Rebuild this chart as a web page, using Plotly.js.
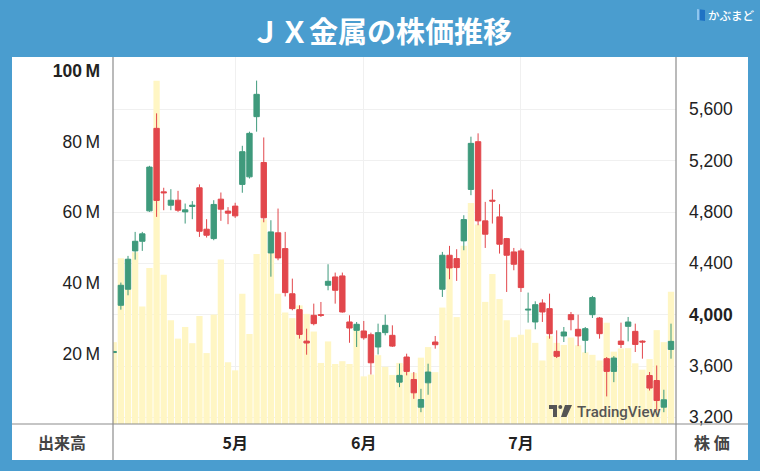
<!DOCTYPE html>
<html>
<head>
<meta charset="utf-8">
<script src="https://cdn.plot.ly/plotly-3.0.1.min.js"></script>
<style>html,body{margin:0;padding:0;background:#4a9dcf;}#chart{width:760px;height:471px;}</style>
</head>
<body>
<div id="chart"></div>
<script>
// Daily OHLC (JPY) and volume (millions of shares)
const opens  = [3705,4073,4198,4497,4572,4809,5452,4957,4853,4892,4801,4843,4989,4666,4593,4900,4807,4846,5015,5074,
                5543,5186,4481,4638,4515,4163,4039,3794,3995,4000,4229,4294,4302,3943,3878,3873,3844,3748,3860,3839,
                3474,3670,3495,3279,3469,3787,4198,4463,4437,4575,4976,5348,4731,4892,4762,4593,4489,4497,4036,3943,
                4091,4047,3714,3834,4000,3886,3800,4000,3974,3657,3558,3794,3909,3870,3794,3526,3487,3279,3729];
const highs  = [3718,4250,4458,4645,4645,5160,5569,4989,4978,4965,4866,4885,5015,4744,4892,4952,4838,4872,5316,5426,
                5824,5381,4736,4827,4645,4281,4073,3891,4086,4099,4393,4328,4328,3995,3943,3951,3860,3930,4000,3917,
                3618,3696,3553,3422,3618,3834,4489,4536,4510,4775,5387,5413,4879,4976,4861,4598,4520,4515,4172,4104,
                4120,4164,3878,3904,4021,4000,3904,4146,3982,3670,3677,3938,3982,3930,3800,3553,3604,3415,3930];
const lows   = [3700,4039,4151,4429,4497,4801,4762,4814,4814,4801,4710,4744,4606,4601,4580,4731,4705,4754,4950,5061,
                5426,4720,4296,4424,4142,4034,3813,3688,3917,3982,4190,4086,4016,3781,3748,3805,3534,3690,3839,3748,
                3435,3527,3344,3240,3376,3735,4138,4276,4263,4502,4931,4697,4520,4710,4476,4177,4346,4177,3938,3886,
                3943,3813,3662,3787,3878,3755,3701,3974,3813,3363,3474,3740,3792,3709,3657,3409,3253,3240,3657];
const closes = [3712,4229,4432,4572,4630,5150,4890,4950,4892,4814,4817,4853,4650,4619,4859,4822,4791,4770,5270,5413,
                5717,4755,4645,4442,4172,4047,3846,3779,3930,3995,4260,4190,4021,3896,3925,3820,3625,3860,3917,3755,
                3527,3558,3391,3339,3553,3766,4463,4364,4367,4741,5335,4731,4627,4885,4549,4463,4393,4211,4042,4078,
                4021,3852,3675,3865,3961,3834,3891,4133,3852,3558,3662,3768,3943,3768,3787,3428,3331,3337,3792];
const volumes = [23.2,47.0,44.0,48.7,33.3,44.2,97.3,42.3,29.4,24.2,27.5,22.9,30.6,20.1,31.0,46.6,17.5,15.2,36.9,25.5,
                 48.2,58.0,49.0,36.9,31.6,30.0,33.6,31.2,26.2,17.3,23.4,17.0,17.8,17.0,28.2,13.5,14.0,19.5,16.2,13.9,
                 17.3,17.0,14.5,18.8,21.8,14.7,33.0,44.5,30.3,50.5,62.6,56.5,34.6,42.5,35.4,29.4,24.6,25.3,26.8,23.0,
                 18.0,25.0,23.0,22.4,24.5,22.3,20.3,19.6,18.0,28.7,20.5,21.4,21.5,17.2,15.4,18.4,26.6,23.2,37.5];
const monthTickIndex = [17,35,57];
const monthTickText  = ['5月','6月','7月'];
const volTickVals  = [20,40,60,80,100];
const volTickText  = ['20\u2009M','40\u2009M','60\u2009M','80\u2009M','<b>100\u2009M</b>'];
const priceTickVals = [3200,3600,4000,4400,4800,5200,5600];
const priceTickText = ['3,200','3,600','<b>4,000</b>','4,400','4,800','5,200','5,600'];

const idx = opens.map((_, i) => i);

// pixel -> paper helpers (plot area: x 113..676, y 57..424)
const L = 113, R = 676, T = 57, B = 424;
const px = x => (x - L) / (R - L);
const py = y => (B - y) / (B - T);

const volTrace = {
  type: 'bar', x: idx, y: volumes, yaxis: 'y', xaxis: 'x',
  marker: {color: '#fff6c4', line: {width: 0}}, hoverinfo: 'skip'
};
const candleTrace = {
  type: 'candlestick', x: idx, open: opens, high: highs, low: lows, close: closes,
  xaxis: 'x', yaxis: 'y2',
  increasing: {line: {color: '#3f9a7c', width: 1}, fillcolor: '#3f9a7c'},
  decreasing: {line: {color: '#e2474c', width: 1}, fillcolor: '#e2474c'},
  whiskerwidth: 0, hoverinfo: 'skip'
};

function pathFromPx(pts) {
  return 'M' + pts.map(p => px(p[0]).toFixed(5) + ',' + py(p[1]).toFixed(5)).join(' L') + ' Z';
}

const lineCol = '#8c8c8c';
const shapes = [
  {type: 'rect', xref: 'paper', yref: 'paper', x0: px(12), x1: px(748), y0: py(460), y1: py(57),
   fillcolor: '#ffffff', line: {width: 0}, layer: 'below'},
  {type: 'line', xref: 'paper', yref: 'paper', x0: 0, x1: 0, y0: py(460), y1: py(57), line: {color: lineCol, width: 1.2}},
  {type: 'line', xref: 'paper', yref: 'paper', x0: 1, x1: 1, y0: py(460), y1: py(57), line: {color: lineCol, width: 1.2}},
  {type: 'line', xref: 'paper', yref: 'paper', x0: px(12), x1: px(748), y0: 0, y1: 0, line: {color: lineCol, width: 1.2}},
  // TradingView logo
  {type: 'path', xref: 'paper', yref: 'paper', path: pathFromPx([[549,405],[557,405],[557,417],[553,417],[553,409],[549,409]]),
   fillcolor: '#555555', line: {width: 0}},
  {type: 'circle', xref: 'paper', yref: 'paper', x0: px(558.3), x1: px(562.3), y0: py(409), y1: py(405),
   fillcolor: '#555555', line: {width: 0}},
  {type: 'path', xref: 'paper', yref: 'paper', path: pathFromPx([[565,405],[572,405],[566.5,417],[561,417]]),
   fillcolor: '#555555', line: {width: 0}},
  // kabumado icon
  {type: 'path', xref: 'paper', yref: 'paper', path: pathFromPx([[697,9],[705,10],[705,21],[697,20]]),
   fillcolor: '#1f73c4', line: {width: 0}},
  {type: 'path', xref: 'paper', yref: 'paper', path: pathFromPx([[697,9],[699.5,9.3],[699.5,20.3],[697,20]]),
   fillcolor: '#8ec6ee', line: {width: 0}}
];

const annotations = [
  {text: '<b>ＪＸ金属の株価推移</b>', xref: 'paper', yref: 'paper', x: px(381), y: py(30),
   xanchor: 'center', yanchor: 'middle', showarrow: false,
   font: {family: 'Noto Sans CJK JP', size: 29, color: '#ffffff'}},
  {text: 'かぶまど', xref: 'paper', yref: 'paper', x: px(705.5), y: py(15), xanchor: 'left', yanchor: 'middle',
   showarrow: false, font: {family: 'Noto Sans CJK JP', size: 11.5, color: '#ffffff', weight: 500}},
  {text: '出来高', xref: 'paper', yref: 'paper', x: px(62), y: py(442), xanchor: 'center', yanchor: 'middle',
   showarrow: false, font: {family: 'Noto Sans CJK JP', size: 16, color: '#444444', weight: 700}},
  {text: '株 価', xref: 'paper', yref: 'paper', x: px(712), y: py(442), xanchor: 'center', yanchor: 'middle',
   showarrow: false, font: {family: 'Noto Sans CJK JP', size: 16, color: '#444444', weight: 700}},
  {text: 'TradingView', xref: 'paper', yref: 'paper', x: px(575), y: py(411.5), xanchor: 'left', yanchor: 'middle',
   showarrow: false, font: {family: 'Roboto', size: 15, color: '#555555', weight: 500}}
];

const layout = {
  width: 760, height: 471,
  margin: {l: L, r: 760 - R, t: T, b: 471 - B, pad: 0},
  paper_bgcolor: '#4a9dcf', plot_bgcolor: '#ffffff',
  showlegend: false, hovermode: false,
  bargap: 0.12, boxgap: 0.25, boxgroupgap: 0,
  font: {family: 'Liberation Sans, Noto Sans CJK JP, sans-serif', color: '#222222'},
  xaxis: {
    range: [-0.1, 78.7], tickmode: 'array', tickvals: monthTickIndex,
    ticktext: monthTickText.map(t => '<b>' + t + '</b>'),
    showgrid: true, gridcolor: '#f0f0f0', gridwidth: 1, zeroline: false, showline: false, ticks: '',
    ticklabelstandoff: 8, tickfont: {family: 'Noto Sans CJK JP', size: 16, color: '#222222'},
    rangeslider: {visible: false}, fixedrange: true
  },
  yaxis: {
    range: [0, 104], tickmode: 'array', tickvals: volTickVals, ticktext: volTickText,
    showgrid: false, zeroline: false, showline: false, ticks: '', side: 'left',
    ticklabelstandoff: 12, tickfont: {size: 17.5, color: '#222222'}, fixedrange: true
  },
  yaxis2: {
    range: [3148, 6008], overlaying: 'y', side: 'right', tickmode: 'array',
    tickvals: priceTickVals, ticktext: priceTickText,
    showgrid: true, gridcolor: '#f0f0f0', gridwidth: 1, zeroline: false, showline: false, ticks: '',
    ticklabelstandoff: 12, tickfont: {size: 17.5, color: '#222222'}, fixedrange: true
  },
  shapes: shapes,
  annotations: annotations
};

Plotly.newPlot('chart', [volTrace, candleTrace], layout, {staticPlot: true, displayModeBar: false});
</script>
</body>
</html>
